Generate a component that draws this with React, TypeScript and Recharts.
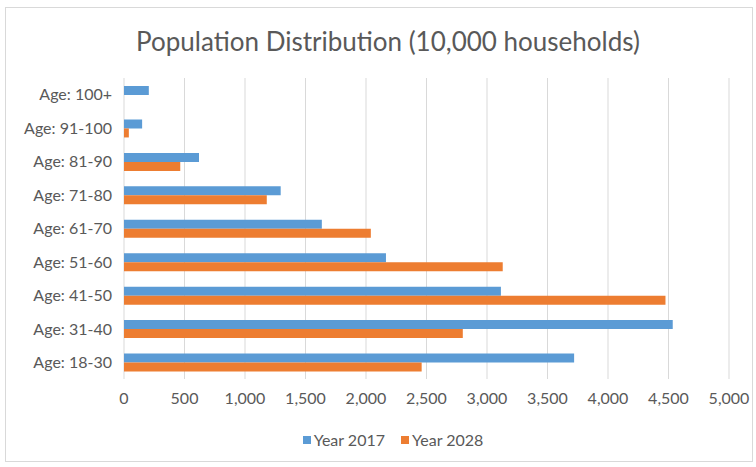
import { BarChart, Bar, XAxis, YAxis, CartesianGrid } from "recharts"

const ageGroups = [
    "Age: 100+",
    "Age: 91-100",
    "Age: 81-90",
    "Age: 71-80",
    "Age: 61-70",
    "Age: 51-60",
    "Age: 41-50",
    "Age: 31-40",
    "Age: 18-30",
]

const year2017 = [205, 150, 620, 1295, 1635, 2165, 3115, 4535, 3720]
const year2028 = [0, 40, 465, 1180, 2040, 3130, 4475, 2800, 2460]

const xTicks = [0, 500, 1000, 1500, 2000, 2500, 3000, 3500, 4000, 4500, 5000]

const data = ageGroups.map((age, i) => ({
    age,
    y2017: year2017[i],
    y2028: year2028[i],
}))

const FONT = "Lato, 'Noto Sans', sans-serif"
const TEXT = "#595959"
const BLUE = "#5b9bd5"
const ORANGE = "#ed7d31"

export default function App() {
    return (
        <div
            style={{
                position: "absolute",
                left: 0,
                top: 0,
                width: 756,
                height: 467,
                background: "#fff",
                fontFamily: FONT,
            }}
        >
            {/* frame */}
            <div
                style={{
                    position: "absolute",
                    left: 5,
                    top: 7,
                    width: 748,
                    height: 455,
                    border: "1px solid #d9d9d9",
                    boxSizing: "border-box",
                }}
            />

            {/* title */}
            <div
                style={{
                    position: "absolute",
                    left: 0,
                    top: 25,
                    width: 776,
                    textAlign: "center",
                    fontSize: 26,
                    color: TEXT,
                }}
            >
                Population Distribution (10,000 households)
            </div>

            <div style={{ position: "absolute", left: 0, top: 0 }}>
                <BarChart
                    width={756}
                    height={467}
                    data={data}
                    layout="vertical"
                    margin={{ top: 78, right: 27, bottom: 58, left: 8 }}
                    barSize={9}
                    barGap={0}
                >
                    <CartesianGrid horizontal={false} stroke="#d9d9d9" />
                    <XAxis
                        type="number"
                        domain={[0, 5000]}
                        ticks={xTicks}
                        axisLine={false}
                        tickLine={false}
                        height={30}
                        tickMargin={8}
                        tickFormatter={(v: number) => v.toLocaleString("en-US")}
                        tick={{ fill: TEXT, fontSize: 16, fontFamily: FONT }}
                    />
                    <YAxis
                        type="category"
                        dataKey="age"
                        width={116}
                        axisLine={false}
                        tickLine={false}
                        tickMargin={6}
                        tick={{ fill: TEXT, fontSize: 16, fontFamily: FONT }}
                    />
                    <Bar dataKey="y2017" name="Year 2017" fill={BLUE} isAnimationActive={false} />
                    <Bar dataKey="y2028" name="Year 2028" fill={ORANGE} isAnimationActive={false} />
                </BarChart>
            </div>

            {/* legend */}
            <div
                style={{
                    position: "absolute",
                    left: 0,
                    top: 430,
                    width: 786,
                    display: "flex",
                    justifyContent: "center",
                    gap: 16,
                    fontSize: 16,
                    color: TEXT,
                }}
            >
                <span style={{ display: "flex", alignItems: "center", gap: 3 }}>
                    <span style={{ width: 8, height: 8, background: BLUE }} />
                    Year 2017
                </span>
                <span style={{ display: "flex", alignItems: "center", gap: 3 }}>
                    <span style={{ width: 8, height: 8, background: ORANGE }} />
                    Year 2028
                </span>
            </div>
        </div>
    )
}
